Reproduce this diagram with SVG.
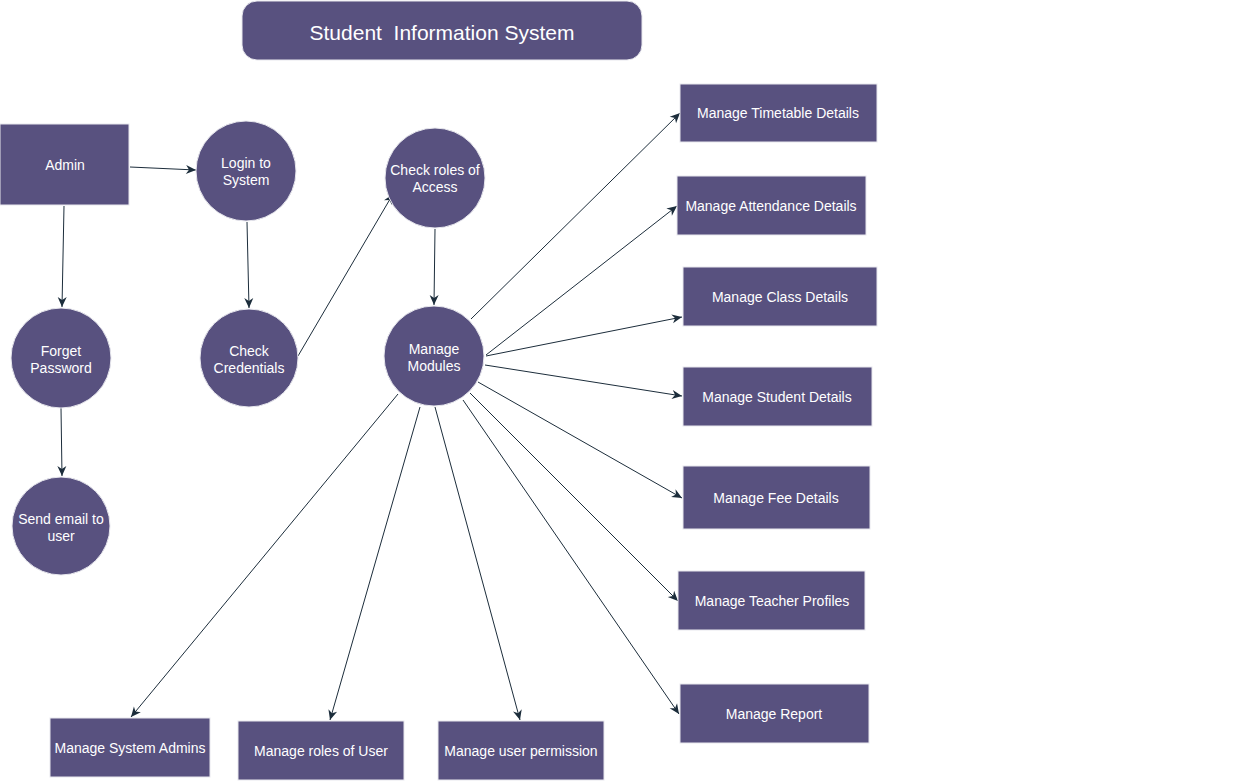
<svg xmlns="http://www.w3.org/2000/svg" width="1241" height="781" viewBox="0 0 1241 781">
<style>
.n{fill:#58517f;stroke:#e8e8ee;stroke-width:1}
.t{fill:#ffffff;font-family:"Liberation Sans",Arial,sans-serif;font-size:14px;text-anchor:middle}
.c line{stroke:#1c2d3b;stroke-width:1;marker-end:url(#a)}
</style>
<defs>
<marker id="a" markerUnits="userSpaceOnUse" markerWidth="12" markerHeight="12" viewBox="0 0 12 12" refX="11" refY="6" orient="auto">
<path d="M1,1.5 L11,6 L1,10.5 L4,6 Z" fill="#1c2d3b"/>
</marker>
</defs>
<rect width="1241" height="781" fill="#ffffff"/>
<g id="title">
<rect class="n" x="242" y="1" width="400" height="59" rx="15"/>
<text class="t" x="442" y="40" xml:space="preserve" style="font-size:21px;white-space:pre">Student  Information System</text>
</g>
<g class="c" id="connectors">
<line x1="130" y1="167" x2="196" y2="170"/>
<line x1="64" y1="206" x2="62" y2="307"/>
<line x1="247" y1="222" x2="249" y2="308"/>
<line x1="298" y1="356" x2="393" y2="194"/>
<line x1="435" y1="229" x2="434" y2="305"/>
<line x1="61" y1="408" x2="62" y2="476"/>
<line x1="471" y1="319" x2="680" y2="113"/>
<line x1="486" y1="355" x2="677" y2="206"/>
<line x1="486" y1="356" x2="682" y2="317"/>
<line x1="485" y1="365" x2="682" y2="396"/>
<line x1="478" y1="382" x2="682" y2="498"/>
<line x1="470" y1="393" x2="678" y2="601"/>
<line x1="463" y1="400" x2="679" y2="714"/>
<line x1="398" y1="394" x2="131" y2="717"/>
<line x1="420" y1="407" x2="330" y2="720"/>
<line x1="435" y1="407" x2="520" y2="720"/>
</g>
<g id="admin"><rect class="n" x="0" y="124" width="129" height="81"/><text class="t" x="65" y="170">Admin</text></g>
<g id="login"><circle class="n" cx="246" cy="171" r="50"/><text class="t" x="246" y="168">Login to</text><text class="t" x="246" y="185">System</text></g>
<g id="checkroles"><circle class="n" cx="435" cy="178" r="50"/><text class="t" x="435" y="175">Check roles of</text><text class="t" x="435" y="192">Access</text></g>
<g id="forget"><circle class="n" cx="61" cy="358" r="50"/><text class="t" x="61" y="356">Forget</text><text class="t" x="61" y="373">Password</text></g>
<g id="checkcred"><circle class="n" cx="249" cy="358" r="49"/><text class="t" x="249" y="356">Check</text><text class="t" x="249" y="373">Credentials</text></g>
<g id="modules"><circle class="n" cx="434" cy="356" r="50"/><text class="t" x="434" y="354">Manage</text><text class="t" x="434" y="371">Modules</text></g>
<g id="sendemail"><circle class="n" cx="61" cy="526" r="49"/><text class="t" x="61" y="524">Send email to</text><text class="t" x="61" y="541">user</text></g>
<g id="timetable"><rect class="n" x="680" y="84" width="197" height="58"/><text class="t" x="778" y="118">Manage Timetable Details</text></g>
<g id="attendance"><rect class="n" x="677" y="176" width="189" height="59"/><text class="t" x="771" y="211">Manage Attendance Details</text></g>
<g id="class"><rect class="n" x="683" y="267" width="194" height="59"/><text class="t" x="780" y="302">Manage Class Details</text></g>
<g id="student"><rect class="n" x="683" y="367" width="189" height="59"/><text class="t" x="777" y="402">Manage Student Details</text></g>
<g id="fee"><rect class="n" x="683" y="466" width="187" height="63"/><text class="t" x="776" y="503">Manage Fee Details</text></g>
<g id="teacher"><rect class="n" x="678" y="571" width="187" height="59"/><text class="t" x="772" y="606">Manage Teacher Profiles</text></g>
<g id="report"><rect class="n" x="680" y="684" width="189" height="59"/><text class="t" x="774" y="719">Manage Report</text></g>
<g id="sysadmins"><rect class="n" x="50" y="718" width="160" height="59"/><text class="t" x="130" y="753">Manage System Admins</text></g>
<g id="rolesuser"><rect class="n" x="238" y="721" width="166" height="59"/><text class="t" x="321" y="756">Manage roles of User</text></g>
<g id="userperm"><rect class="n" x="438" y="721" width="166" height="59"/><text class="t" x="521" y="756">Manage user permission</text></g>
</svg>
